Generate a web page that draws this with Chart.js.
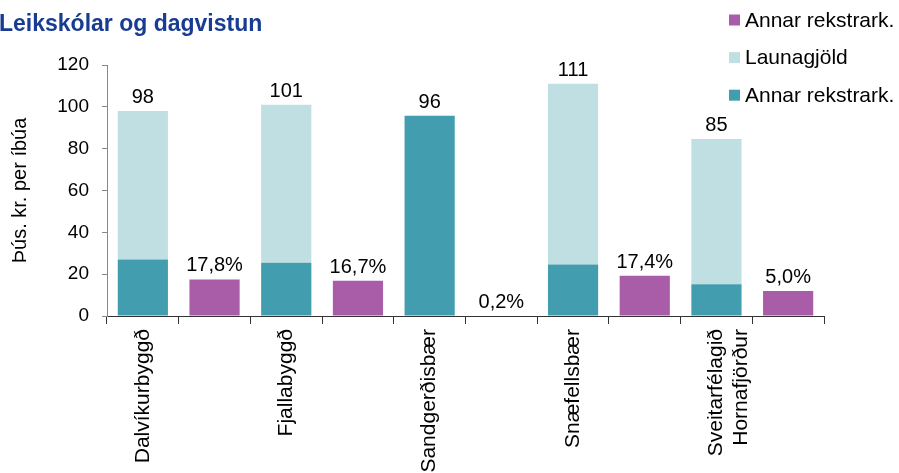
<!DOCTYPE html>
<html>
<head>
<meta charset="utf-8">
<script src="https://cdn.jsdelivr.net/npm/chart.js@4.4.0/dist/chart.umd.min.js"></script>
<style>
  html, body { margin: 0; padding: 0; background: #fff; }
  #wrap { position: relative; width: 899px; height: 473px; }
</style>
</head>
<body>
<div id="wrap"><canvas id="leikskolar" width="899" height="473"></canvas></div>
<script>
// sveitarfélög
const sveitarfelog = ['Dalvíkurbyggð', 'Fjallabyggð', 'Sandgerðisbær', 'Snæfellsbær', ['Sveitarfélagið', 'Hornafjörður']];
// þús. kr. per íbúa
const annarRekstur = [27, 25.4, 95.7, 24.6, 15.2];
const launagjold = [71, 75.6, 0, 86.4, 69.4];
// hlutfall (súluhæð og merki)
const hlutfallSula = [17.5, 16.8, 0.2, 19.2, 12.0];
const hlutfallMerki = ['17,8%', '16,7%', '0,2%', '17,4%', '5,0%'];
const yTicks = [0, 20, 40, 60, 80, 100, 120];

const LETUR = "'Liberation Sans', Arial, sans-serif";
const TEAL = '#429eae';
const LJOS = '#c0dfe3';
const FJOLUBLATT = '#a95ca8';

// 10 raufar: sveitarfélag + hlutfallssúla
const merki = [];
const tealGogn = [];
const ljosGogn = [];
const fjolGogn = [];
sveitarfelog.forEach((s, i) => {
  merki.push(s, '');
  tealGogn.push(annarRekstur[i], null);
  ljosGogn.push(launagjold[i], null);
  fjolGogn.push(null, hlutfallSula[i]);
});

const merkjaPlugin = {
  id: 'merki',
  afterDatasetsDraw(chart) {
    const ctx = chart.ctx;
    const x = chart.scales.x;
    const y = chart.scales.y;
    ctx.save();
    ctx.fillStyle = '#000';
    ctx.font = '20px ' + LETUR;
    ctx.textAlign = 'center';
    ctx.textBaseline = 'alphabetic';
    sveitarfelog.forEach((s, i) => {
      const samtals = annarRekstur[i] + launagjold[i];
      ctx.fillText(String(Math.round(samtals)), x.getPixelForValue(i * 2), y.getPixelForValue(samtals) - 8);
      ctx.fillText(hlutfallMerki[i], x.getPixelForValue(i * 2 + 1), y.getPixelForValue(hlutfallSula[i]) - 8);
    });

    // titill
    ctx.textAlign = 'left';
    ctx.fillStyle = '#173c92';
    ctx.font = 'bold 23px ' + LETUR;
    ctx.fillText('Leikskólar og dagvistun', -1, 31);

    // skýringar
    const skyringar = [
      ['Annar rekstrark.', FJOLUBLATT],
      ['Launagjöld', LJOS],
      ['Annar rekstrark.', TEAL]
    ];
    ctx.font = '21px ' + LETUR;
    skyringar.forEach((sk, i) => {
      const grunnlina = 26.5 + i * 37.6;
      ctx.fillStyle = sk[1];
      ctx.fillRect(729, grunnlina - 12, 11, 11);
      ctx.fillStyle = '#000';
      ctx.fillText(sk[0], 745, grunnlina);
    });
    ctx.restore();
  }
};

const ctx = document.getElementById('leikskolar').getContext('2d');
const leikskolarChart = new Chart(ctx, {
  type: 'bar',
  data: {
    labels: merki,
    datasets: [
      { label: 'Annar rekstrark.', data: tealGogn, backgroundColor: TEAL },
      { label: 'Launagjöld', data: ljosGogn, backgroundColor: LJOS },
      { label: 'Annar rekstrark.', data: fjolGogn, backgroundColor: FJOLUBLATT }
    ]
  },
  options: {
    responsive: false,
    animation: false,
    events: [],
    datasets: {
      bar: { categoryPercentage: 1, barPercentage: 0.7, borderWidth: 0 }
    },
    layout: { padding: { top: 65, right: 75, left: 0, bottom: 0 } },
    plugins: {
      legend: { display: false },
      tooltip: { enabled: false },
      title: { display: false }
    },
    scales: {
      x: {
        stacked: true,
        afterFit: (s) => { s.height = 157; },
        grid: { offset: true, drawOnChartArea: false, drawTicks: true, tickLength: 8, color: '#333' },
        border: { color: '#333' },
        ticks: {
          autoSkip: false,
          minRotation: 90,
          maxRotation: 90,
          padding: 5,
          color: '#000',
          font: { family: LETUR, size: 21 }
        }
      },
      y: {
        stacked: true,
        min: 0,
        max: 120,
        afterFit: (s) => { s.width = 107; },
        afterBuildTicks: (s) => { s.ticks = yTicks.map(v => ({ value: v })); },
        grid: { drawOnChartArea: false, drawTicks: true, tickLength: 5, color: '#888' },
        border: { color: '#888' },
        ticks: {
          padding: 13,
          color: '#000',
          font: { family: LETUR, size: 19 }
        },
        title: {
          display: true,
          text: 'Þús. kr. per íbúa',
          color: '#000',
          font: { family: LETUR, size: 20 },
          padding: { top: 8 }
        }
      }
    }
  },
  plugins: [merkjaPlugin]
});
</script>
</body>
</html>
